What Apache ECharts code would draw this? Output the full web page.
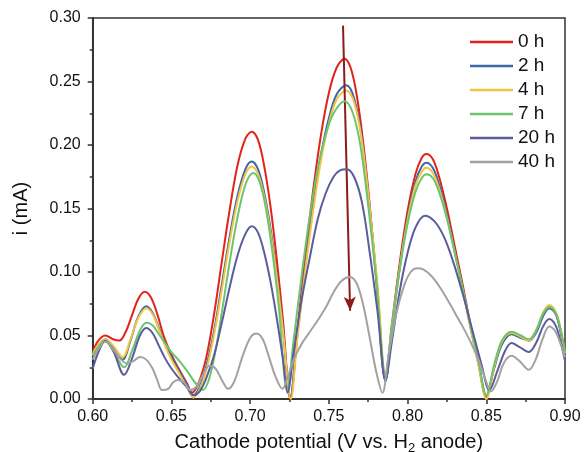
<!DOCTYPE html>
<html>
<head>
<meta charset="utf-8">
<script src="https://cdn.jsdelivr.net/npm/echarts@6/dist/echarts.min.js"></script>
<style>html,body{margin:0;padding:0;background:#fff;}#chart{width:584px;height:452px;}</style>
</head>
<body>
<div id="chart"></div>
<script>
// Series names
const seriesNames = ['0 h', '2 h', '4 h', '7 h', '20 h', '40 h'];

// [potential (V), current (mA)]
const data0h = [[0.600,0.036],[0.603,0.045],[0.608,0.050],[0.613,0.047],[0.617,0.046],[0.621,0.053],[0.625,0.066],[0.629,0.079],[0.633,0.0845],[0.637,0.080],[0.641,0.067],[0.645,0.050],[0.650,0.035],[0.655,0.023],[0.660,0.012],[0.663,0.005],
[0.667,0.012],[0.672,0.032],[0.677,0.066],[0.682,0.108],[0.687,0.149],[0.692,0.184],[0.697,0.205],[0.701,0.2105],[0.705,0.204],[0.709,0.183],[0.713,0.151],[0.717,0.109],[0.721,0.060],[0.7255,0.000],
[0.730,0.054],[0.735,0.112],[0.740,0.164],[0.745,0.208],[0.750,0.241],[0.755,0.261],[0.760,0.268],[0.765,0.256],[0.770,0.220],[0.775,0.165],[0.780,0.095],[0.786,0.015],
[0.790,0.058],[0.795,0.107],[0.800,0.148],[0.805,0.177],[0.809,0.190],[0.812,0.193],[0.816,0.189],[0.820,0.175],[0.825,0.150],[0.830,0.120],[0.835,0.090],[0.840,0.058],[0.845,0.029],[0.850,0.002],
[0.855,0.025],[0.860,0.045],[0.866,0.052],[0.872,0.049],[0.877,0.046],[0.882,0.054],[0.886,0.066],[0.890,0.0725],[0.894,0.068],[0.897,0.055],[0.900,0.036]];

const data2h = [[0.600,0.034],[0.603,0.041],[0.608,0.047],[0.613,0.041],[0.619,0.031],[0.624,0.046],[0.629,0.065],[0.634,0.073],[0.638,0.068],[0.642,0.056],[0.646,0.043],[0.650,0.033],[0.655,0.022],[0.660,0.011],[0.664,0.003],
[0.668,0.010],[0.672,0.025],[0.677,0.053],[0.682,0.090],[0.687,0.128],[0.692,0.160],[0.697,0.181],[0.701,0.187],[0.705,0.181],[0.709,0.162],[0.713,0.134],[0.717,0.097],[0.721,0.053],[0.7255,0.002],
[0.730,0.050],[0.735,0.104],[0.740,0.152],[0.745,0.192],[0.750,0.221],[0.755,0.240],[0.761,0.247],[0.766,0.237],[0.771,0.205],[0.776,0.150],[0.781,0.085],[0.786,0.014],
[0.790,0.055],[0.795,0.103],[0.800,0.143],[0.805,0.171],[0.809,0.183],[0.812,0.186],[0.816,0.182],[0.820,0.169],[0.825,0.145],[0.830,0.116],[0.835,0.087],[0.840,0.056],[0.845,0.028],[0.850,0.002],
[0.855,0.024],[0.860,0.043],[0.866,0.051],[0.872,0.048],[0.877,0.046],[0.882,0.053],[0.886,0.065],[0.890,0.0715],[0.894,0.067],[0.897,0.054],[0.900,0.035]];

const data4h = [[0.600,0.035],[0.603,0.042],[0.608,0.047],[0.613,0.042],[0.619,0.033],[0.624,0.047],[0.629,0.064],[0.634,0.0715],[0.638,0.067],[0.642,0.055],[0.646,0.042],[0.650,0.031],[0.655,0.020],[0.660,0.009],[0.664,0.001],
[0.668,0.008],[0.672,0.022],[0.677,0.050],[0.682,0.086],[0.687,0.124],[0.692,0.156],[0.697,0.177],[0.701,0.183],[0.705,0.177],[0.709,0.159],[0.713,0.131],[0.717,0.095],[0.721,0.052],[0.7258,0.000],
[0.730,0.048],[0.735,0.101],[0.740,0.148],[0.745,0.188],[0.750,0.217],[0.755,0.236],[0.761,0.243],[0.766,0.234],[0.771,0.203],[0.776,0.150],[0.781,0.088],[0.786,0.018],
[0.790,0.057],[0.795,0.103],[0.800,0.141],[0.805,0.168],[0.809,0.179],[0.812,0.182],[0.816,0.178],[0.820,0.166],[0.825,0.143],[0.830,0.115],[0.835,0.086],[0.840,0.056],[0.845,0.027],[0.850,0.000],
[0.855,0.025],[0.860,0.045],[0.866,0.052],[0.872,0.049],[0.877,0.046],[0.882,0.055],[0.886,0.068],[0.890,0.074],[0.894,0.069],[0.897,0.056],[0.900,0.036]];

const data7h = [[0.600,0.034],[0.603,0.040],[0.608,0.046],[0.613,0.038],[0.620,0.025],[0.625,0.038],[0.630,0.054],[0.634,0.060],[0.638,0.058],[0.642,0.051],[0.646,0.044],[0.650,0.037],[0.655,0.030],[0.660,0.022],[0.665,0.013],[0.670,0.007],
[0.674,0.016],[0.678,0.038],[0.682,0.068],[0.686,0.100],[0.690,0.130],[0.694,0.155],[0.698,0.172],[0.702,0.178],[0.706,0.171],[0.710,0.150],[0.714,0.117],[0.718,0.075],[0.7235,0.008],
[0.728,0.050],[0.733,0.100],[0.738,0.145],[0.743,0.182],[0.748,0.208],[0.753,0.225],[0.760,0.2345],[0.765,0.226],[0.770,0.200],[0.775,0.152],[0.780,0.095],[0.786,0.020],
[0.790,0.058],[0.795,0.102],[0.800,0.138],[0.805,0.163],[0.809,0.174],[0.812,0.177],[0.816,0.174],[0.820,0.163],[0.825,0.142],[0.830,0.115],[0.835,0.087],[0.840,0.058],[0.845,0.030],[0.850,0.003],
[0.855,0.027],[0.860,0.046],[0.866,0.053],[0.872,0.050],[0.877,0.047],[0.882,0.055],[0.886,0.067],[0.890,0.0725],[0.894,0.068],[0.897,0.056],[0.900,0.037]];

const data20h = [[0.600,0.024],[0.604,0.038],[0.608,0.0457],[0.613,0.038],[0.620,0.019],[0.625,0.032],[0.630,0.050],[0.634,0.056],[0.638,0.052],[0.642,0.042],[0.646,0.032],[0.650,0.024],[0.655,0.016],[0.660,0.009],[0.664,0.003],
[0.668,0.006],[0.672,0.016],[0.677,0.034],[0.682,0.060],[0.687,0.088],[0.692,0.113],[0.697,0.130],[0.701,0.136],[0.705,0.131],[0.709,0.115],[0.713,0.092],[0.717,0.063],[0.721,0.030],[0.7237,0.005],
[0.728,0.040],[0.733,0.080],[0.738,0.112],[0.743,0.142],[0.748,0.162],[0.753,0.175],[0.757,0.180],[0.7614,0.181],[0.766,0.175],[0.771,0.155],[0.776,0.115],[0.781,0.068],[0.786,0.015],
[0.790,0.045],[0.795,0.085],[0.800,0.115],[0.805,0.135],[0.811,0.1443],[0.817,0.140],[0.823,0.128],[0.829,0.108],[0.835,0.083],[0.841,0.055],[0.847,0.027],[0.852,0.007],
[0.857,0.022],[0.862,0.038],[0.866,0.044],[0.871,0.041],[0.877,0.037],[0.882,0.045],[0.886,0.057],[0.890,0.063],[0.894,0.058],[0.897,0.046],[0.900,0.030]];

const data40h = [[0.600,0.031],[0.604,0.040],[0.608,0.045],[0.613,0.039],[0.618,0.031],[0.622,0.028],[0.626,0.030],[0.630,0.033],[0.634,0.031],[0.638,0.024],[0.641,0.015],[0.644,0.007],[0.648,0.008],[0.651,0.013],[0.654,0.015],[0.658,0.013],[0.662,0.007],
[0.666,0.010],[0.670,0.019],[0.674,0.026],[0.678,0.024],[0.682,0.015],[0.686,0.008],[0.690,0.014],[0.695,0.033],[0.700,0.048],[0.704,0.0515],[0.708,0.047],[0.712,0.033],[0.716,0.018],[0.7205,0.008],
[0.724,0.018],[0.728,0.032],[0.733,0.044],[0.738,0.053],[0.743,0.062],[0.748,0.072],[0.753,0.084],[0.758,0.093],[0.7635,0.096],[0.768,0.090],[0.772,0.073],[0.776,0.048],[0.780,0.022],[0.784,0.005],
[0.788,0.035],[0.793,0.068],[0.798,0.090],[0.802,0.100],[0.806,0.103],[0.810,0.102],[0.815,0.097],[0.820,0.089],[0.825,0.079],[0.830,0.068],[0.835,0.057],[0.840,0.045],[0.845,0.031],[0.849,0.017],[0.853,0.006],
[0.857,0.014],[0.861,0.028],[0.866,0.034],[0.871,0.030],[0.877,0.023],[0.881,0.030],[0.886,0.048],[0.890,0.057],[0.894,0.053],[0.897,0.044],[0.900,0.033]];

// Arrow annotation (start, end) in data coordinates
const arrowStart = [0.759, 0.294];
const arrowEnd = [0.7635, 0.0695];

// Axis tick values
const xTicks = [0.60, 0.65, 0.70, 0.75, 0.80, 0.85, 0.90];
const yTicks = [0.00, 0.05, 0.10, 0.15, 0.20, 0.25, 0.30];

const allData = [data0h, data2h, data4h, data7h, data20h, data40h];
const colors = ['#e2231a', '#3d68a6', '#f6c244', '#6cc46e', '#5a5c9c', '#a2a2a2'];

const chart = echarts.init(document.getElementById('chart'), null, {renderer: 'canvas'});
const FONT = 'Liberation Sans, Arial, sans-serif';

const series = allData.map((d, i) => ({
  name: seriesNames[i],
  type: 'line',
  data: d,
  smooth: 0.35,
  showSymbol: false,
  symbol: 'none',
  lineStyle: {color: colors[i], width: 2},
  itemStyle: {color: colors[i]},
  z: 2 + i
}));
series.push({
  type: 'line',
  data: [],
  silent: true,
  z: 20,
  markLine: {
    silent: true,
    symbol: ['none', 'arrow'],
    symbolSize: [9, 14],
    label: {show: false},
    lineStyle: {color: '#8e1b1b', width: 2, type: 'solid'},
    itemStyle: {color: '#8e1b1b'},
    emphasis: {disabled: true},
    data: [[{coord: arrowStart}, {coord: arrowEnd}]]
  }
});

chart.setOption({
  animation: false,
  backgroundColor: '#fff',
  color: colors,
  grid: {left: 92.7, right: 19, top: 18, bottom: 53, containLabel: false, outerBoundsMode: 'none', show: true, borderColor: '#333', borderWidth: 1.5, backgroundColor: 'transparent'},
  legend: {
    data: seriesNames,
    orient: 'vertical',
    left: 465,
    top: 27,
    icon: 'rect',
    itemWidth: 43,
    itemHeight: 2.5,
    itemGap: 4,
    textStyle: {fontFamily: FONT, fontSize: 19, color: '#111', lineHeight: 20}
  },
  xAxis: {
    type: 'value',
    min: 0.6, max: 0.9, interval: 0.05,
    name: '{t|Cathode potential (V vs. H}{s|2}{t| anode)}',
    nameLocation: 'middle',
    nameGap: 31,
    nameTextStyle: {
      rich: {
        t: {fontFamily: FONT, fontSize: 20, color: '#111'},
        s: {fontFamily: FONT, fontSize: 13, color: '#111', verticalAlign: 'bottom', padding: [12, 0, 0, 0]}
      }
    },
    axisLine: {show: true, lineStyle: {color: '#333', width: 2}},
    axisTick: {show: true, inside: false, length: 5, lineStyle: {color: '#333', width: 1.5}},
    minorTick: {show: true, splitNumber: 2, length: 3, lineStyle: {color: '#333', width: 1.5}},
    splitLine: {show: false},
    axisLabel: {margin: 10, fontFamily: FONT, fontSize: 16, color: '#111', formatter: v => Number(v).toFixed(2)}
  },
  yAxis: {
    type: 'value',
    min: 0, max: 0.3, interval: 0.05,
    name: 'i (mA)',
    nameLocation: 'middle',
    nameGap: 61,
    nameRotate: 90,
    nameTextStyle: {fontFamily: FONT, fontSize: 20, color: '#111'},
    axisLine: {show: true, lineStyle: {color: '#333', width: 2}},
    axisTick: {show: true, inside: false, length: 5, lineStyle: {color: '#333', width: 1.5}},
    minorTick: {show: true, splitNumber: 2, length: 3, lineStyle: {color: '#333', width: 1.5}},
    splitLine: {show: false},
    axisLabel: {margin: 12, fontFamily: FONT, fontSize: 16, color: '#111', formatter: v => Number(v).toFixed(2)}
  },
  series: series
});
</script>
</body>
</html>
